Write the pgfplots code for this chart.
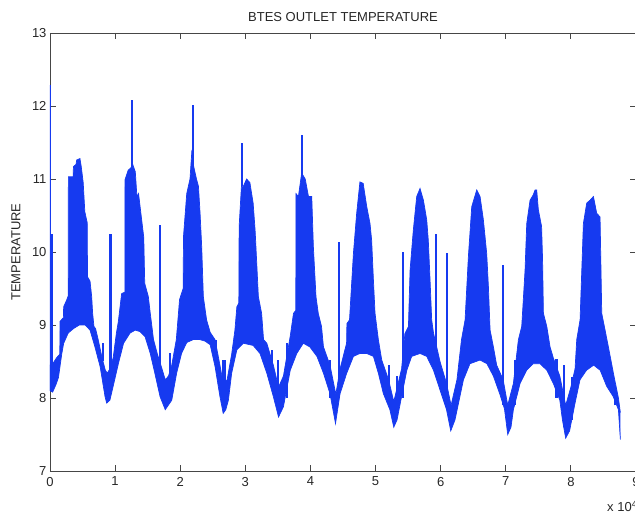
\documentclass[border=0pt]{standalone}
\usepackage{fontspec}
\setmainfont{Liberation Sans}
\usepackage{pgfplots}
\pgfplotsset{compat=1.18}
\usepgfplotslibrary{fillbetween}
\definecolor{mblue}{RGB}{22,58,240}
\definecolor{axgray}{RGB}{70,70,70}
\begin{document}
\begin{tikzpicture}
\begin{axis}[
  scale only axis, width=586pt, height=438pt,
  xmin=0, xmax=9, ymin=7, ymax=13,
  xtick={0,...,9}, ytick={7,...,13},
  xtick pos=both, ytick pos=both, tick align=inside,
  major tick length=6pt,
  axis line style={axgray, line width=0.8pt},
  every tick/.style={axgray, line width=0.8pt},
  /pgf/number format/assume math mode=true,
  tick label style={font=\fontsize{13}{15}\selectfont, text=black!85},
  xticklabel style={yshift=-2.5pt},
  title={BTES OUTLET TEMPERATURE},
  every axis title/.style={at={(0.5,1)}, anchor=base, yshift=11pt, font=\fontsize{13}{15}\selectfont, text=black!85},
  ylabel={TEMPERATURE},
  every axis y label/.style={at={(axis description cs:-0.058,0.5)}, rotate=90, anchor=center, font=\fontsize{13}{15}\selectfont, text=black!85},
  unbounded coords=jump,
]
\addplot[mblue, line width=0.7pt, name path=U] coordinates {
(0.000,8.45) (0.050,8.48) (0.100,8.55) (0.150,8.60) (0.155,9.05) (0.205,9.10) (0.210,9.25) (0.255,9.34) (0.280,9.40)
(0.282,11.03) (0.355,11.03) (0.360,11.17) (0.400,11.20) (0.410,11.26) (0.460,11.28) (0.480,11.17) (0.510,10.95) (0.535,10.55)
(0.572,10.40) (0.576,9.66) (0.615,9.60) (0.640,9.39) (0.655,9.16) (0.675,8.98) (0.700,8.95) (0.740,8.80) (0.800,8.55)
(0.850,8.38) (0.880,8.34) (0.920,8.40) (0.970,8.55) (1.020,8.89) (1.050,9.05) (1.100,9.43) (1.150,9.45)
(1.152,10.99) (1.200,11.12) (1.240,11.15) (1.270,11.20) (1.310,11.10) (1.335,10.76) (1.360,10.80) (1.400,10.50) (1.440,10.20)
(1.455,9.57) (1.510,9.39) (1.540,9.16) (1.590,8.80) (1.650,8.60) (1.720,8.40) (1.770,8.25) (1.820,8.30) (1.870,8.45)
(1.940,8.80) (1.990,9.35) (2.045,9.50) (2.050,10.21) (2.100,10.80) (2.150,11.00) (2.180,11.40) (2.200,11.20) (2.250,11.00)
(2.280,10.90) (2.305,10.53) (2.330,10.07) (2.355,9.39) (2.405,9.07) (2.460,8.90) (2.535,8.80) (2.610,8.45) (2.660,8.20)
(2.720,8.25) (2.790,8.60) (2.840,8.93) (2.870,9.25) (2.900,9.30) (2.905,10.35) (2.940,10.90) (2.970,10.90) (3.020,11.00)
(3.070,10.95) (3.120,10.67) (3.150,10.30) (3.175,9.85) (3.200,9.39) (3.250,9.16) (3.280,8.80) (3.330,8.75) (3.430,8.45)
(3.510,8.15) (3.585,8.30) (3.690,8.85) (3.740,9.16) (3.775,9.20) (3.778,10.80) (3.815,10.76) (3.865,11.08) (3.920,11.00)
(3.970,10.76) (4.020,10.76) (4.045,10.07) (4.085,9.39) (4.120,9.16) (4.170,8.98) (4.200,8.70) (4.300,8.45) (4.390,8.05)
(4.455,8.40) (4.555,8.75) (4.560,9.02) (4.600,9.07) (4.660,9.98) (4.710,10.53) (4.760,10.96) (4.810,10.94) (4.865,10.62)
(4.915,10.39) (4.940,10.16) (4.967,9.62) (4.992,9.16) (5.043,8.80) (5.095,8.52) (5.200,8.25) (5.280,7.95) (5.400,8.40)
(5.450,8.88) (5.505,8.98) (5.530,9.75) (5.580,10.30) (5.632,10.76) (5.683,10.87) (5.735,10.71) (5.786,10.44) (5.810,10.16)
(5.837,9.62) (5.862,9.07) (5.890,8.89) (5.990,8.50) (6.090,8.20) (6.160,7.90) (6.250,8.25) (6.320,8.80) (6.375,9.07)
(6.426,9.94) (6.477,10.62) (6.554,10.85) (6.605,10.76) (6.656,10.44) (6.707,9.98) (6.733,9.53) (6.759,8.93) (6.810,8.70)
(6.860,8.45) (6.960,8.25) (7.030,7.90) (7.117,8.20) (7.194,8.80) (7.245,8.98) (7.296,9.75) (7.322,10.39) (7.373,10.71)
(7.420,10.78) (7.450,10.85) (7.475,10.85) (7.500,10.58) (7.550,10.35) (7.565,9.90) (7.578,9.16) (7.630,8.98) (7.680,8.70)
(7.730,8.55) (7.830,8.30) (7.920,7.90) (8.000,8.15) (8.064,8.40) (8.090,8.80) (8.141,9.07) (8.192,10.39) (8.243,10.67)
(8.295,10.71) (8.346,10.76) (8.397,10.53) (8.448,10.48) (8.474,9.16) (8.525,8.93) (8.576,8.70) (8.653,8.34) (8.730,8.00)
(8.760,7.80)
};
\addplot[mblue, line width=0.7pt, name path=L] coordinates {
(0.000,8.10) (0.040,8.08) (0.090,8.18) (0.130,8.28) (0.180,8.60) (0.210,8.75) (0.280,8.89) (0.360,8.95) (0.450,9.00)
(0.540,9.00) (0.615,8.93) (0.690,8.70) (0.770,8.43) (0.845,8.02) (0.870,7.93) (0.920,7.97) (0.970,8.16) (1.050,8.47)
(1.130,8.75) (1.230,8.89) (1.310,8.93) (1.380,8.91) (1.460,8.84) (1.540,8.61) (1.610,8.34) (1.690,8.02) (1.770,7.84)
(1.870,7.97) (1.945,8.34) (2.020,8.61) (2.100,8.76) (2.200,8.80) (2.300,8.80) (2.380,8.78) (2.460,8.73) (2.535,8.43)
(2.610,8.02) (2.660,7.79) (2.700,7.84) (2.740,7.97) (2.790,8.34) (2.870,8.66) (2.970,8.75) (3.120,8.72) (3.225,8.61)
(3.330,8.34) (3.430,8.02) (3.510,7.74) (3.585,7.88) (3.690,8.38) (3.790,8.61) (3.890,8.75) (3.990,8.70) (4.100,8.57)
(4.200,8.34) (4.300,8.06) (4.385,7.65) (4.455,8.06) (4.557,8.34) (4.660,8.57) (4.760,8.61) (4.864,8.61) (4.967,8.57)
(5.043,8.34) (5.120,8.06) (5.220,7.84) (5.280,7.60) (5.330,7.70) (5.400,8.02) (5.480,8.38) (5.555,8.57) (5.683,8.61)
(5.786,8.57) (5.890,8.38) (5.990,8.11) (6.090,7.84) (6.155,7.55) (6.220,7.70) (6.350,8.25) (6.450,8.47) (6.605,8.52)
(6.710,8.47) (6.810,8.30) (6.910,8.05) (6.980,7.85) (7.030,7.50) (7.080,7.60) (7.117,7.84) (7.220,8.20) (7.320,8.38)
(7.420,8.47) (7.527,8.47) (7.630,8.38) (7.730,8.20) (7.830,7.97) (7.870,7.70) (7.920,7.45) (7.980,7.55) (8.064,7.93)
(8.140,8.25) (8.240,8.38) (8.350,8.45) (8.450,8.38) (8.550,8.16) (8.650,8.02) (8.730,7.84) (8.760,7.43)
};
\addplot[mblue] fill between[of=U and L];
\addplot[mblue, line width=2.2pt] coordinates {
(0.003,8.10) (0.003,12.29) (0.003,nan)
(0.025,8.40) (0.025,10.25) (0.025,nan)
(0.820,8.50) (0.820,8.75) (0.820,nan)
(0.930,8.30) (0.930,10.25) (0.930,nan)
(1.255,11.0) (1.255,12.08) (1.255,nan)
(1.690,8.10) (1.690,10.37) (1.690,nan)
(1.840,8.20) (1.840,8.61) (1.840,nan)
(2.200,11.0) (2.200,12.01) (2.200,nan)
(2.550,8.40) (2.550,8.80) (2.550,nan)
(2.660,8.00) (2.660,8.52) (2.660,nan)
(2.690,8.00) (2.690,8.52) (2.690,nan)
(2.944,10.9) (2.944,11.49) (2.944,nan)
(3.405,8.20) (3.405,8.66) (3.405,nan)
(3.507,8.00) (3.507,8.52) (3.507,nan)
(3.635,8.00) (3.635,8.75) (3.635,nan)
(3.866,11.0) (3.866,11.60) (3.866,nan)
(4.300,8.00) (4.300,8.52) (4.300,nan)
(4.440,8.00) (4.440,10.14) (4.440,nan)
(5.212,7.90) (5.212,8.45) (5.212,nan)
(5.335,7.80) (5.335,8.30) (5.335,nan)
(5.427,8.00) (5.427,10.00) (5.427,nan)
(5.930,8.30) (5.930,10.25) (5.930,nan)
(6.093,7.90) (6.093,9.98) (6.093,nan)
(6.960,7.90) (6.960,9.82) (6.960,nan)
(7.143,7.90) (7.143,8.52) (7.143,nan)
(7.780,8.00) (7.780,8.54) (7.780,nan)
(7.895,7.60) (7.895,8.45) (7.895,nan)
(8.013,7.70) (8.013,8.29) (8.013,nan)
(8.679,7.90) (8.679,8.16)
};
\end{axis}
\node[anchor=base west, font=\fontsize{13}{15}\selectfont, text=black!85, inner sep=0pt] at (557pt,-41pt) {x 10\textsuperscript{4}};
\pgfresetboundingbox
\path[use as bounding box] (-50pt,-45pt) rectangle (585pt,471pt);
\end{tikzpicture}
\end{document}
